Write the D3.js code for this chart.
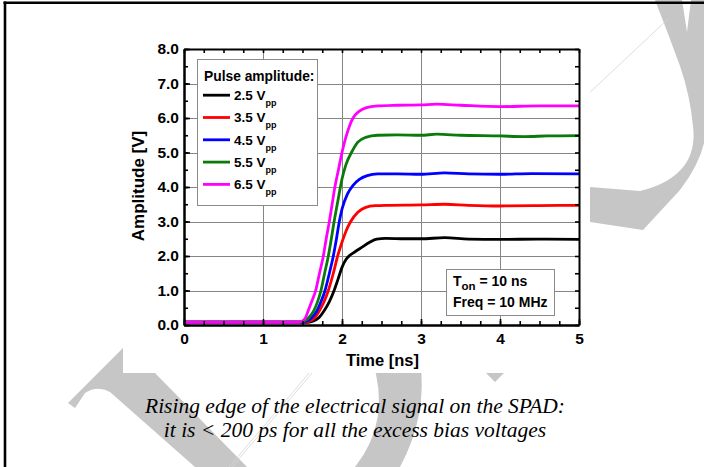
<!DOCTYPE html>
<html>
<head>
<meta charset="utf-8">
<script src="https://cdn.jsdelivr.net/npm/d3@7"></script>
<style>
  html, body { margin: 0; padding: 0; background: #fff; }
  svg { display: block; }
</style>
</head>
<body>
<svg id="chart" width="704" height="467"></svg>
<script>
// ---- data: measured rising edges, time in ns, amplitude in V ----
const seriesNames = ["2.5 V", "3.5 V", "4.5 V", "5.5 V", "6.5 V"];
const seriesColors = ["#000000", "#ff0000", "#0000ff", "#0b7a0b", "#ff00ff"];

const trace25 = [[0,0.08],[0.5,0.08],[1.0,0.08],[1.4,0.08],[1.57,0.08],[1.64,0.12],[1.71,0.22],[1.77,0.4],[1.84,0.68],[1.9,1.0],[1.95,1.33],[2.0,1.67],[2.05,1.9],[2.1,2.02],[2.17,2.13],[2.25,2.25],[2.35,2.4],[2.44,2.49],[2.55,2.51],[2.8,2.5],[3.0,2.5],[3.3,2.53],[3.6,2.49],[4.0,2.48],[4.5,2.49],[5.0,2.48]];
const trace35 = [[0,0.08],[0.5,0.08],[1.0,0.08],[1.53,0.08],[1.6,0.12],[1.66,0.22],[1.71,0.4],[1.77,0.66],[1.827,1.0],[1.89,1.5],[1.945,2.0],[2.0,2.4],[2.05,2.72],[2.11,3.0],[2.2,3.27],[2.3,3.41],[2.42,3.46],[2.6,3.47],[3.0,3.48],[3.3,3.5],[3.6,3.47],[4.0,3.45],[4.5,3.46],[5.0,3.47]];
const trace45 = [[0,0.08],[0.5,0.08],[1.0,0.08],[1.5,0.08],[1.56,0.12],[1.62,0.22],[1.68,0.4],[1.73,0.65],[1.785,1.0],[1.84,1.5],[1.89,2.0],[1.93,2.5],[1.966,3.0],[2.0,3.36],[2.07,3.8],[2.14,4.05],[2.22,4.22],[2.32,4.33],[2.45,4.38],[2.7,4.38],[3.0,4.37],[3.3,4.41],[3.6,4.38],[4.0,4.37],[4.4,4.39],[5.0,4.38]];
const trace55 = [[0,0.08],[0.5,0.08],[1.0,0.08],[1.47,0.08],[1.53,0.12],[1.59,0.24],[1.64,0.4],[1.69,0.67],[1.734,1.0],[1.78,1.5],[1.827,2.0],[1.865,2.5],[1.9,3.0],[1.94,3.5],[1.98,4.0],[2.0,4.23],[2.05,4.65],[2.12,5.0],[2.2,5.3],[2.3,5.44],[2.45,5.5],[2.7,5.51],[3.0,5.5],[3.2,5.53],[3.5,5.5],[4.0,5.48],[4.3,5.46],[4.6,5.48],[5.0,5.49]];
const trace65 = [[0,0.08],[0.5,0.08],[1.0,0.08],[1.44,0.08],[1.5,0.12],[1.54,0.22],[1.57,0.4],[1.62,0.7],[1.667,1.0],[1.715,1.5],[1.764,2.0],[1.8,2.5],[1.84,3.0],[1.875,3.5],[1.91,4.0],[1.955,4.5],[2.0,5.0],[2.05,5.45],[2.1,5.8],[2.14,6.0],[2.22,6.2],[2.31,6.3],[2.45,6.35],[2.7,6.37],[3.0,6.38],[3.2,6.4],[3.5,6.37],[4.0,6.33],[4.5,6.35],[5.0,6.35]];
const traces = [trace25, trace35, trace45, trace55, trace65];

const xTicks = [0, 1, 2, 3, 4, 5];
const yTicks = [0, 1, 2, 3, 4, 5, 6, 7, 8];
const xMinorTicks = d3.range(0, 5.001, 0.25);
const yMinorTicks = d3.range(0, 8.001, 0.5);

const xTitle = "Time [ns]";
const yTitle = "Amplitude [V]";
const legendTitle = "Pulse amplitude:";
const noteLines = [["T", "on", " = 10 ns"], ["Freq = 10 MHz", "", ""]];
const captionLines = [
  "Rising edge of the electrical signal on the SPAD:",
  "it is < 200 ps for all the excess bias voltages"
];

// ---- page ----
const svg = d3.select("#chart");
const sans = "'Liberation Sans', Arial, sans-serif";
const serif = "'Liberation Serif', 'Times New Roman', serif";

svg.append("rect").attr("width", 704).attr("height", 467).attr("fill", "#fff");

// light grey background artwork
const deco = svg.append("g").attr("fill", "#c6c6c6");
deco.append("path").attr("d",
  "M68,403 L133,338 L155,373 L247,467 L195,467 L110,392 Q97,385 85,393 L75,408 Z");
deco.append("path").attr("d",
  "M372,360 L420,360 Q428,415 400,467 L355,467 Q392,420 372,360 Z");
deco.append("path").attr("d", "M486,373 L504,373 L495,382 Z");
deco.append("path").attr("d",
  "M655,0 L682,0 L687,32 L691,0 L704,0 L704,143 Q699,165 680,190 L643,230 L590,222 L590,187 " +
  "L640,191 Q670,184 684,166 Q696,150 693,126 Q690,95 680,66 Q668,33 655,0 Z");
const hair = svg.append("g").attr("stroke", "#d4d4d4").attr("stroke-width", 0.8).attr("fill", "none");
hair.append("line").attr("x1", 585).attr("y1", 97).attr("x2", 668).attr("y2", 19);
hair.append("line").attr("x1", 313).attr("y1", 372).attr("x2", 232).attr("y2", 467);
hair.append("line").attr("x1", 310).attr("y1", 372).attr("x2", 229).attr("y2", 467);

// chart panel
svg.append("rect").attr("x", 123).attr("y", 0).attr("width", 467).attr("height", 373).attr("fill", "#fff");

// page frame
svg.append("line").attr("x1", 3.5).attr("x2", 704).attr("y1", 2.7).attr("y2", 2.7)
  .attr("stroke", "#000").attr("stroke-width", 2.6);
svg.append("line").attr("x1", 5).attr("x2", 5).attr("y1", 1.4).attr("y2", 467)
  .attr("stroke", "#000").attr("stroke-width", 2.6);

// ---- plot ----
const plotLeft = 184, plotRight = 579, plotTop = 49, plotBottom = 325;
const x = d3.scaleLinear().domain([0, 5]).range([plotLeft, plotRight]);
const y = d3.scaleLinear().domain([0, 8]).range([plotBottom, plotTop]);

const grid = svg.append("g").attr("stroke", "#858585").attr("stroke-width", 1);
grid.selectAll(".gx").data(xTicks.slice(1, -1)).join("line")
  .attr("x1", d => Math.round(x(d)) + 0.5).attr("x2", d => Math.round(x(d)) + 0.5)
  .attr("y1", plotTop).attr("y2", plotBottom);
grid.selectAll(".gy").data(yTicks.slice(1, -1)).join("line")
  .attr("y1", d => Math.round(y(d)) + 0.5).attr("y2", d => Math.round(y(d)) + 0.5)
  .attr("x1", plotLeft).attr("x2", plotRight);

svg.append("clipPath").attr("id", "plotClip").append("rect")
  .attr("x", plotLeft).attr("y", plotTop).attr("width", plotRight - plotLeft).attr("height", plotBottom - plotTop);

const line = d3.line().x(d => x(d[0])).y(d => y(d[1])).curve(d3.curveMonotoneX);

// legend box (sits above the grid)
const legendX = 197, legendY = 59, legendW = 120, legendH = 146;
svg.append("rect").attr("x", legendX + 0.5).attr("y", legendY + 0.5)
  .attr("width", legendW).attr("height", legendH)
  .attr("fill", "#fff").attr("stroke", "#8a8a8a").attr("stroke-width", 1);

// note box
const noteX = 446, noteY = 269, noteW = 108, noteH = 46;
svg.append("rect").attr("x", noteX + 0.5).attr("y", noteY + 0.5)
  .attr("width", noteW).attr("height", noteH)
  .attr("fill", "#fff").attr("stroke", "#8a8a8a").attr("stroke-width", 1);

svg.append("g").attr("clip-path", "url(#plotClip)")
  .selectAll("path").data(traces).join("path")
  .attr("d", line)
  .attr("fill", "none")
  .attr("stroke", (d, i) => seriesColors[i])
  .attr("stroke-width", 2.8)
  .attr("stroke-linejoin", "round");

// axes: inward ticks on all four sides
function styleAxis(g) {
  g.selectAll(".domain").attr("stroke", "#000").attr("stroke-width", 2);
  g.selectAll(".tick line").attr("stroke", "#000").attr("stroke-width", 1.6);
  g.selectAll("text").attr("font-family", sans).attr("font-weight", "bold")
    .attr("font-size", 15.5).attr("fill", "#000");
}
const gB = svg.append("g").attr("transform", `translate(0,${plotBottom})`);
gB.append("g").call(d3.axisBottom(x).tickValues(xMinorTicks).tickSize(-4).tickSizeOuter(0).tickFormat(""));
gB.append("g").call(d3.axisBottom(x).tickValues(xTicks).tickSize(-6).tickSizeOuter(0).tickPadding(8).tickFormat(d3.format("d")));
styleAxis(gB);
const gT = svg.append("g").attr("transform", `translate(0,${plotTop})`);
gT.call(d3.axisTop(x).tickValues(xMinorTicks).tickSize(-4).tickSizeOuter(0).tickFormat(""));
styleAxis(gT);
const gL = svg.append("g").attr("transform", `translate(${plotLeft},0)`);
gL.append("g").call(d3.axisLeft(y).tickValues(yMinorTicks).tickSize(-4).tickSizeOuter(0).tickFormat(""));
gL.append("g").call(d3.axisLeft(y).tickValues(yTicks).tickSize(-6).tickSizeOuter(0).tickPadding(5).tickFormat(d3.format(".1f")));
styleAxis(gL);
const gR = svg.append("g").attr("transform", `translate(${plotRight},0)`);
gR.call(d3.axisRight(y).tickValues(yMinorTicks).tickSize(-4).tickSizeOuter(0).tickFormat(""));
styleAxis(gR);

// axis titles
svg.append("text").attr("x", (plotLeft + plotRight) / 2 + 1).attr("y", 366)
  .attr("text-anchor", "middle").attr("font-family", sans).attr("font-weight", "bold")
  .attr("font-size", 16.5).text(xTitle);
svg.append("text").attr("transform", `translate(143.5,${(plotTop + plotBottom) / 2 - 1}) rotate(-90)`)
  .attr("text-anchor", "middle").attr("font-family", sans).attr("font-weight", "bold")
  .attr("font-size", 17).text(yTitle);

// legend content
svg.append("text").attr("x", 204).attr("y", 80.5)
  .attr("font-family", sans).attr("font-weight", "bold").attr("font-size", 13.8)
  .text(legendTitle);
const items = svg.append("g").selectAll("g").data(seriesNames).join("g")
  .attr("transform", (d, i) => `translate(203,${95.2 + i * 22.3})`);
items.append("line").attr("x1", 0).attr("x2", 27).attr("y1", 0).attr("y2", 0)
  .attr("stroke", (d, i) => seriesColors[i]).attr("stroke-width", 2.8);
const itemText = items.append("text").attr("x", 31).attr("y", 4.8)
  .attr("font-family", sans).attr("font-weight", "bold").attr("font-size", 13.5);
itemText.append("tspan").text(d => d);
itemText.append("tspan").attr("dy", 6).attr("font-size", 9).text("pp");

// note content
const note = svg.append("g").attr("font-family", sans).attr("font-weight", "bold").attr("font-size", 14);
const n1 = note.append("text").attr("x", 453).attr("y", 286);
n1.append("tspan").text(noteLines[0][0]);
n1.append("tspan").attr("dy", 4).attr("font-size", 11.5).text(noteLines[0][1]);
n1.append("tspan").attr("dy", -4).text(noteLines[0][2]);
note.append("text").attr("x", 453).attr("y", 306.5).text(noteLines[1][0]);

// caption
svg.append("g").selectAll("text").data(captionLines).join("text")
  .attr("x", 355).attr("y", (d, i) => 413 + i * 24)
  .attr("text-anchor", "middle")
  .attr("font-family", serif).attr("font-style", "italic").attr("font-size", 21.5)
  .attr("fill", "#000")
  .text(d => d);
</script>
</body>
</html>
